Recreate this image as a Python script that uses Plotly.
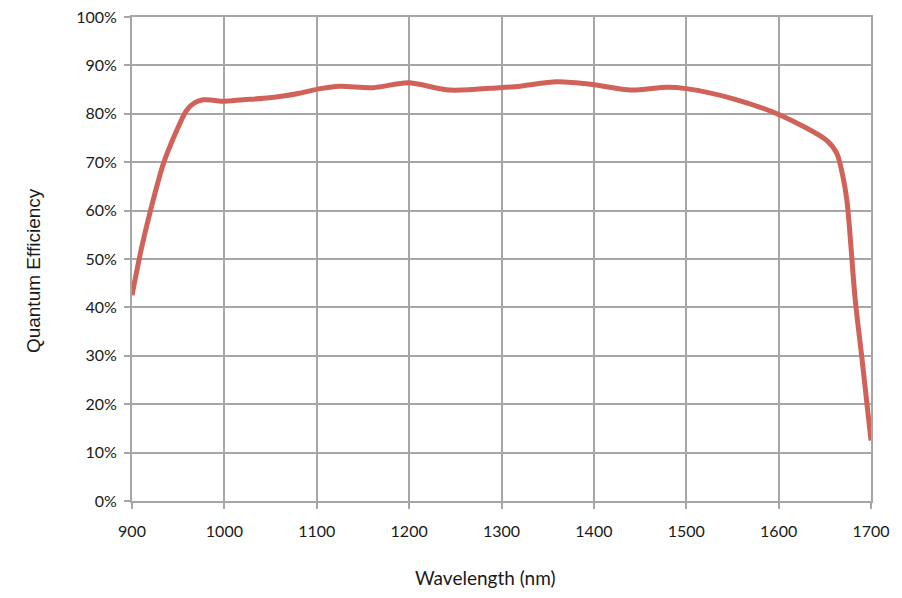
import plotly.graph_objects as go

# wavelength (nm) and quantum efficiency (%)
wavelength = [900, 910, 920, 934, 946, 959, 968, 977, 988, 999, 1020, 1049,
              1080, 1104, 1125, 1161, 1199, 1244, 1298, 1320, 1360, 1400,
              1440, 1479, 1500, 1551, 1602, 1652, 1663, 1669, 1674, 1683,
              1690, 1700]
qe = [42.5, 52.0, 60.0, 69.7, 75.5, 80.7, 82.3, 82.9, 82.8, 82.6, 82.9, 83.3,
      84.2, 85.2, 85.7, 85.4, 86.4, 84.9, 85.4, 85.7, 86.6, 86.0,
      84.9, 85.5, 85.2, 83.1, 79.7, 74.5, 71.8, 67.6, 62.0, 41.4,
      29.8, 12.5]

x_ticks = list(range(900, 1701, 100))
y_ticks = list(range(0, 101, 10))

grid = '#a6a6a6'
text_color = '#1a1a1a'

fig = go.Figure(go.Scatter(
    x=wavelength,
    y=qe,
    mode='lines',
    line=dict(color='#d0625a', width=5, shape='spline', smoothing=0.8),
    hoverinfo='skip'
))

# page body adds an 8px margin, so the figure is a bit smaller than the window
fig.update_layout(
    width=886,
    height=582,
    margin=dict(l=124, r=23, t=9, b=89),
    paper_bgcolor='white',
    plot_bgcolor='white',
    showlegend=False,
    font=dict(family='Lato, Open Sans, sans-serif', color=text_color, size=16),
    xaxis=dict(
        range=[900, 1700],
        tickvals=x_ticks,
        ticktext=[str(v) for v in x_ticks],
        showgrid=True, gridcolor=grid, gridwidth=2,
        showline=True, linecolor=grid, linewidth=2, mirror=True,
        ticks='outside', ticklen=6, tickcolor=grid, tickwidth=2,
        ticklabelstandoff=9, ticklabeloverflow='allow',
        zeroline=False, automargin=False,
    ),
    yaxis=dict(
        range=[0, 100],
        tickvals=y_ticks,
        ticktext=[f'{v}%' for v in y_ticks],
        showgrid=True, gridcolor=grid, gridwidth=2,
        showline=True, linecolor=grid, linewidth=2, mirror=True,
        ticks='outside', ticklen=6, tickcolor=grid, tickwidth=2,
        ticklabelstandoff=4, ticklabeloverflow='allow',
        zeroline=False, automargin=False,
    ),
    annotations=[
        dict(text='Wavelength (nm)', xref='paper', yref='paper',
             x=0.479, y=-0.158, xanchor='center', yanchor='middle',
             showarrow=False, font=dict(size=19)),
        dict(text='Quantum Efficiency', xref='paper', yref='paper',
             x=-0.134, y=0.477, xanchor='center', yanchor='middle',
             textangle=-90, showarrow=False,
             font=dict(size=19, family='Liberation Sans, Arial, sans-serif')),
    ],
)

fig.write_html("out.html")
